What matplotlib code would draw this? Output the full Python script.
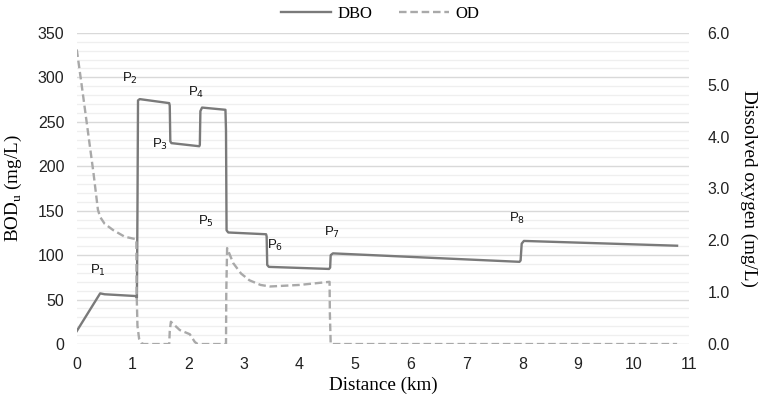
import matplotlib
matplotlib.use("Agg")
import matplotlib.pyplot as plt
from matplotlib.ticker import MultipleLocator, FormatStrFormatter

# BOD (DBO) series, mg/L
dbo_x = [0.0, 0.42, 0.50, 1.06, 1.08, 1.09, 1.10, 1.13, 1.66, 1.67, 1.68, 1.70, 2.20, 2.21,
         2.22, 2.25, 2.67, 2.68, 2.69, 2.72, 3.40, 3.41, 3.42, 3.45, 4.53, 4.55, 4.56, 4.60,
         7.95, 7.97, 7.99, 8.03, 10.78]
dbo_y = [14.6, 57.0, 56.0, 54.0, 52.0, 150.0, 274.0, 275.5, 271.0, 268.0, 228.0, 226.0, 222.5, 224.0,
         262.0, 266.0, 263.5, 240.0, 128.0, 125.5, 123.5, 121.0, 89.0, 86.8, 84.5, 86.0, 100.0, 102.0,
         92.5, 94.0, 113.0, 116.0, 110.6]

# Dissolved oxygen (OD) series, mg/L
od_x = [0.0, 0.10, 0.20, 0.30, 0.38, 0.42, 0.50, 0.65, 0.86, 1.07, 1.075, 1.09, 1.12, 1.16, 1.20,
        1.66, 1.67, 1.69, 1.85, 2.03, 2.12, 2.17, 2.68, 2.685, 2.70, 2.81, 2.95, 3.10, 3.30, 3.47,
        4.00, 4.54, 4.545, 4.56, 10.78]
od_y = [5.68, 4.90, 4.10, 3.30, 2.59, 2.45, 2.32, 2.20, 2.07, 2.02, 1.00, 0.35, 0.10, 0.02, 0.0,
        0.0, 0.25, 0.43, 0.27, 0.19, 0.04, 0.0, 0.0, 1.00, 1.85, 1.56, 1.36, 1.23, 1.14, 1.11,
        1.14, 1.20, 0.60, 0.0, 0.0]

# point labels
lbl_names = ["P$_1$", "P$_2$", "P$_3$", "P$_4$", "P$_5$", "P$_6$", "P$_7$", "P$_8$"]
lbl_x = [0.39, 0.95, 1.49, 2.15, 2.32, 3.57, 4.58, 7.90]
lbl_y = [83, 299, 224, 283, 138, 111, 126, 141]

dbo_color = "#7a7a7a"
od_color = "#a9a9a9"

fig = plt.figure(figsize=(7.6, 4.01), dpi=100)
ax = fig.add_axes([0.101, 0.142, 0.806, 0.776])
ax2 = ax.twinx()

ax.set_xlim(0, 11)
ax.set_ylim(0, 350)
ax2.set_ylim(0, 6)

ax.yaxis.set_major_locator(MultipleLocator(50))
ax.yaxis.set_minor_locator(MultipleLocator(10))
ax.xaxis.set_major_locator(MultipleLocator(1))
ax2.yaxis.set_major_locator(MultipleLocator(1))

ax.grid(which="major", axis="y", color="#d9d9d9", linewidth=1.0)
ax.grid(which="minor", axis="y", color="#efefef", linewidth=0.9)
ax.set_axisbelow(True)

for a in (ax, ax2):
    for s in a.spines.values():
        s.set_visible(False)
    a.tick_params(which="both", length=0)

ax.tick_params(axis="x", labelsize=11.5, colors="#222222", pad=9)
ax.tick_params(axis="y", labelsize=11.5, colors="#222222", pad=9)
ax2.tick_params(axis="y", labelsize=11.5, colors="#222222", pad=13)
for t in ax.get_xticklabels() + ax.get_yticklabels() + ax2.get_yticklabels():
    t.set_family("Liberation Sans")
ax2.yaxis.set_major_formatter(FormatStrFormatter("%.1f"))

l1, = ax.plot(dbo_x, dbo_y, color=dbo_color, lw=1.7, label="DBO", zorder=3)
l2, = ax2.plot(od_x, od_y, color=od_color, lw=1.7, ls=(0, (3.2, 1.6)), label="OD", zorder=2)

for n, x, y in zip(lbl_names, lbl_x, lbl_y):
    ax.text(x, y, n, ha="center", va="center", fontsize=9.5, family="Liberation Sans", color="#111111")

serif = "Liberation Serif"
ax.set_xlabel("Distance (km)", fontsize=13.8, family=serif, labelpad=4)
ax.set_ylabel("BOD$_\\mathregular{u}$ (mg/L)", fontsize=13.8, family=serif, labelpad=10)
ax2.set_ylabel("Dissolved oxygen (mg/L)", fontsize=13.8, family=serif, rotation=270, labelpad=20)

leg = fig.legend([l1, l2], ["DBO", "OD"], loc="center", bbox_to_anchor=(0.5, 0.965), ncol=2,
                 frameon=False, prop={"family": serif, "size": 12}, handlelength=3.0,
                 columnspacing=1.6, handletextpad=0.4)

fig.savefig("out.png", dpi=100)
